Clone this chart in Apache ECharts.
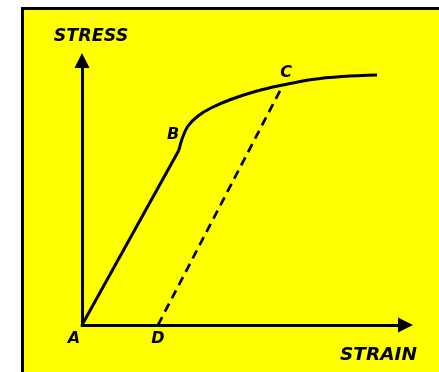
<!DOCTYPE html>
<html>
<head>
<meta charset="utf-8">
<script src="https://cdn.jsdelivr.net/npm/echarts@6/dist/echarts.min.js"></script>
<style>
html,body{margin:0;padding:0;background:#fff;}
#chart{width:439px;height:372px;}
</style>
</head>
<body>
<div id="chart"></div>
<script>
// Data (arbitrary strain / stress units)
var elasticPart = [[0, 0], [97, 175]];
var plasticPart = [[97, 175], [100, 186], [106, 199], [116, 209], [129, 217], [150, 226], [175, 234], [201, 240], [230, 245.5], [260, 248.5], [295, 250]];
var unloadLine = [[76, 0], [201, 240]];
var pointNames = ['A', 'B', 'C', 'D'];
var pointCoords = [[0, 0], [100, 185], [201, 240], [76, 0]];
var pointLabelOffsets = [[-8, 14], [-9, -5], [3, -12], [0, 14]];
var xAxisName = 'STRAIN';
var yAxisName = 'STRESS';

var font = 'DejaVu Sans';
var chart = echarts.init(document.getElementById('chart'), null, {renderer: 'canvas'});
chart.setOption({
  animation: false,
  graphic: [{
    type: 'rect', z: -10, silent: true,
    shape: {x: 22.5, y: 8.5, width: 440, height: 380},
    style: {fill: '#FFFF00', stroke: '#000', lineWidth: 3}
  }],
  grid: {left: 82, right: 33.5, top: 60.5, bottom: 47},
  xAxis: {
    type: 'value', min: 0, max: 323.5, z: 5,
    name: xAxisName, nameLocation: 'end', nameGap: -65.5,
    nameTextStyle: {fontFamily: font, fontWeight: 'bold', fontStyle: 'italic', fontSize: 18.5, color: '#000', align: 'left', verticalAlign: 'top', padding: [21, 0, 0, 0]},
    axisLine: {lineStyle: {color: '#000', width: 3}, symbol: ['none', 'triangle'], symbolSize: [15, 15]},
    axisTick: {show: false}, axisLabel: {show: false}, splitLine: {show: false}
  },
  yAxis: {
    type: 'value', min: 0, max: 264.5, z: 5,
    name: yAxisName, nameLocation: 'end', nameGap: 15,
    nameTextStyle: {fontFamily: font, fontWeight: 'bold', fontStyle: 'italic', fontSize: 17.5, color: '#000', padding: [0, 0, 0, 18]},
    axisLine: {lineStyle: {color: '#000', width: 3}, symbol: ['none', 'triangle'], symbolSize: [15, 15]},
    axisTick: {show: false}, axisLabel: {show: false}, splitLine: {show: false}
  },
  series: [
    {type: 'line', data: elasticPart, showSymbol: false, lineStyle: {color: '#000', width: 3}},
    {type: 'line', data: plasticPart, showSymbol: false, smooth: 0.4, lineStyle: {color: '#000', width: 3}},
    {type: 'line', data: unloadLine, showSymbol: false, lineStyle: {color: '#000', width: 2.7, type: [9, 6]}},
    {type: 'scatter', symbolSize: 0, itemStyle: {opacity: 1, color: '#000'},
     data: pointNames.map(function (n, i) {
       return {value: pointCoords[i], name: n,
         label: {show: true, formatter: n, position: 'inside', offset: pointLabelOffsets[i], opacity: 1,
           fontFamily: font, fontWeight: 'bold', fontStyle: 'italic', fontSize: 16, color: '#000'}};
     })}
  ]
});
</script>
</body>
</html>
